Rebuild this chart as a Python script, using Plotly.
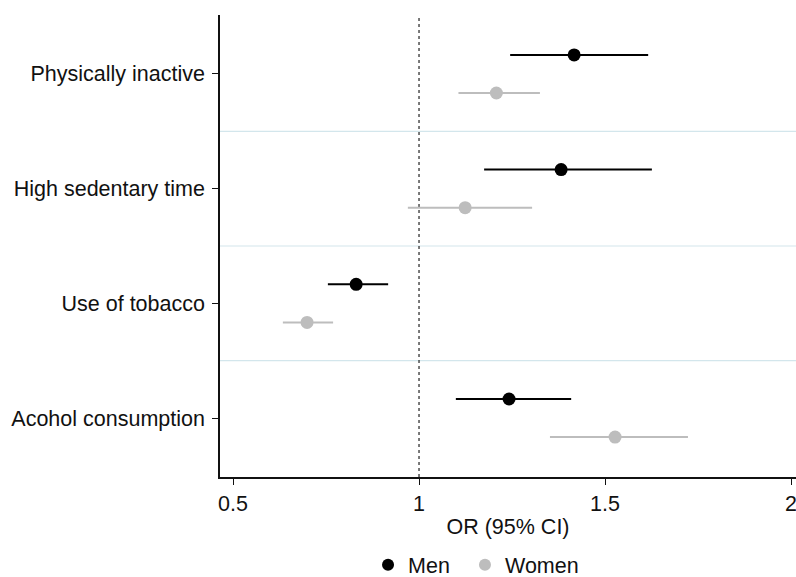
import plotly.graph_objects as go

# ---- data ----
categories = ["Physically inactive", "High sedentary time", "Use of tobacco", "Acohol consumption"]

men_or = [1.417, 1.382, 0.831, 1.242]
men_lo = [1.245, 1.175, 0.755, 1.099]
men_hi = [1.616, 1.626, 0.917, 1.409]

women_or = [1.208, 1.124, 0.699, 1.527]
women_lo = [1.106, 0.970, 0.634, 1.352]
women_hi = [1.325, 1.304, 0.769, 1.723]

x_ticks = [0.5, 1, 1.5, 2]
x_tick_labels = ["0.5", "1", "1.5", "2"]

# ---- layout helpers ----
n = len(categories)
base = [n - i for i in range(n)]          # top category highest
off = 0.166
men_y = [b + off for b in base]
women_y = [b - off for b in base]

FONT = "Liberation Sans, Arial, Helvetica, sans-serif"
MEN_C = "#000000"
WOMEN_C = "#bdbdbd"
FS = 21.5

fig = go.Figure()

fig.add_trace(go.Scatter(
    x=men_or, y=men_y, mode="markers", name="Men", legend="legend",
    marker=dict(color=MEN_C, size=13),
    error_x=dict(type="data", symmetric=False,
                 array=[h - o for h, o in zip(men_hi, men_or)],
                 arrayminus=[o - l for o, l in zip(men_or, men_lo)],
                 color=MEN_C, thickness=2, width=0),
))
fig.add_trace(go.Scatter(
    x=women_or, y=women_y, mode="markers", name="Women", legend="legend2",
    marker=dict(color=WOMEN_C, size=13),
    error_x=dict(type="data", symmetric=False,
                 array=[h - o for h, o in zip(women_hi, women_or)],
                 arrayminus=[o - l for o, l in zip(women_or, women_lo)],
                 color=WOMEN_C, thickness=2, width=0),
))

shapes = []
# separators between categories
for i in range(n - 1):
    yy = (base[i] + base[i + 1]) / 2
    shapes.append(dict(type="line", xref="paper", yref="y", x0=0, x1=1, y0=yy, y1=yy,
                       line=dict(color="#d3e6ec", width=1.2), layer="below"))
# reference line at OR = 1
shapes.append(dict(type="line", xref="x", yref="paper", x0=1, x1=1, y0=0, y1=1,
                   line=dict(color="#222222", width=1.2, dash="dot"), layer="below"))

leg_common = dict(orientation="h", xanchor="left", y=-0.19, yanchor="middle",
                  font=dict(size=FS), itemsizing="constant", bgcolor="rgba(0,0,0,0)")

fig.update_layout(
    width=796, height=577,
    margin=dict(l=220, r=0, t=15, b=100, autoexpand=False),
    paper_bgcolor="white", plot_bgcolor="white",
    font=dict(family=FONT, size=FS, color="#111111"),
    shapes=shapes,
    showlegend=True,
    legend=dict(x=0.257, **leg_common),
    legend2=dict(x=0.4253, **leg_common),
    xaxis=dict(range=[0.465, 2.0134], tickvals=x_ticks, ticktext=x_tick_labels,
               automargin=False, ticklabeloverflow="allow",
               showgrid=False, zeroline=False, showline=True, linecolor="#111111",
               linewidth=1.5, ticks="outside", ticklen=6, tickcolor="#111111",
               tickwidth=1.2,
               title=dict(text="OR (95% CI)", standoff=4, font=dict(size=FS))),
    yaxis=dict(range=[0.486, 4.514], tickvals=base, ticktext=categories,
               automargin=False, ticklabelstandoff=3,
               showgrid=False, zeroline=False, showline=True, linecolor="#111111",
               linewidth=1.5, ticks="outside", ticklen=6, tickcolor="#111111",
               tickwidth=1.2),
)

fig.write_html("out.html", config={"displayModeBar": False},
               post_script="document.body.style.margin='0';document.body.style.overflow='hidden';")
